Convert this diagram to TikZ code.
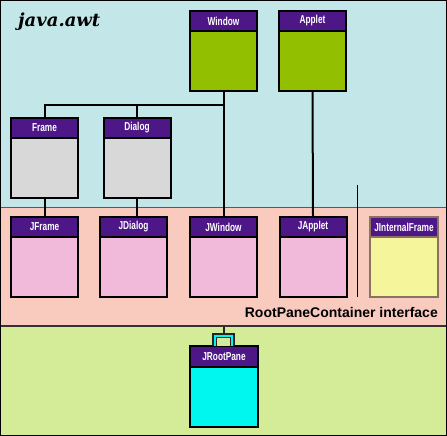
\documentclass[tikz,border=0pt]{standalone}
\usepackage{fontspec}
\setmainfont{Liberation Sans}
\newfontfamily\hdrfont[FakeStretch=0.72]{Liberation Sans}
\newfontfamily\pkgfont{DejaVu Serif}
\definecolor{bgblue}{HTML}{C3E7E9}
\definecolor{bgpink}{HTML}{F9CBBF}
\definecolor{bggreen}{HTML}{D4EB98}
\definecolor{hdrpurple}{HTML}{4D1787}
\definecolor{olive}{HTML}{92BF00}
\definecolor{boxgray}{HTML}{D8D8D8}
\definecolor{boxpink}{HTML}{F2BADA}
\definecolor{boxyellow}{HTML}{F5F59B}
\definecolor{boxcyan}{HTML}{00F7F0}
\definecolor{ifborder}{HTML}{8A7262}
\begin{document}
\begin{tikzpicture}[x=1pt,y=-1pt,
  classbox/.style={draw=black,line width=2pt,minimum width=67pt,minimum height=80pt,inner sep=0pt},
  hdr/.style={draw=black,line width=2pt,fill=hdrpurple,anchor=north,minimum width=67pt,minimum height=20pt,inner sep=0pt,text=white,font=\hdrfont\bfseries\fontsize{11.5}{13}\selectfont},
  link/.style={draw=black,line width=2pt}]
\useasboundingbox (0,0) rectangle (447,436);
% regions
\fill[bgblue] (0,0) rectangle (447,207.5);
\fill[bgpink] (0,207.5) rectangle (447,326);
\fill[bggreen] (0,326) rectangle (447,436);
\draw[gray!70!black,line width=0.6pt] (0,207.5) -- (447,207.5);
\draw[black!80,line width=2pt] (0,326) -- (447,326);
\draw[black,line width=1.2pt] (0.6,0.6) rectangle (446.4,435.4);
% labels
\node[anchor=base west,inner sep=0pt,font=\pkgfont\bfseries\itshape\fontsize{18}{20}\selectfont] (pkg) at (18,26.5) {java.awt};
\node[anchor=base east,inner sep=0pt,font=\bfseries\fontsize{14}{16}\selectfont] (rpc) at (438,317.5) {RootPaneContainer interface};
% classes
\node[classbox,fill=olive] (window) at (223.5,51) {};
\node[hdr] (windowh) at (window.north) {Window};
\node[classbox,fill=olive] (applet) at (312.5,51) {};
\node[hdr] (appleth) at (applet.north) {Applet};
\node[classbox,fill=boxgray] (frame) at (44.5,158) {};
\node[hdr] (frameh) at (frame.north) {Frame};
\node[classbox,fill=boxgray] (dialog) at (137,158) {};
\node[hdr] (dialogh) at (dialog.north) {Dialog};
\node[classbox,fill=boxpink] (jframe) at (44.5,257) {};
\node[hdr] (jframeh) at (jframe.north) {JFrame};
\node[classbox,fill=boxpink] (jdialog) at (133.5,257) {};
\node[hdr] (jdialogh) at (jdialog.north) {JDialog};
\node[classbox,fill=boxpink] (jwindow) at (223.5,257) {};
\node[hdr] (jwindowh) at (jwindow.north) {JWindow};
\node[classbox,fill=boxpink] (japplet) at (313,257) {};
\node[hdr] (jappleth) at (japplet.north) {JApplet};
\node[classbox,fill=boxyellow,draw=ifborder,line width=1.3pt,minimum width=68pt] (jif) at (404,257) {};
\node[hdr,draw=ifborder,line width=1.3pt,minimum width=68pt] (jifh) at (jif.north) {JInternalFrame};
\node[classbox,fill=boxcyan,minimum width=68pt,minimum height=81pt] (jroot) at (224,386.5) {};
\node[hdr,minimum width=68pt,minimum height=21pt] (jrooth) at (jroot.north) {JRootPane};
% connectors
\coordinate (bus) at (0,105);
\draw[link] (frameh.north) |- (bus -| window.south);
\draw[link] (dialogh.north) -- (dialogh.north |- bus);
\draw[link] (window.south) -- (jwindowh.north);
\draw[link] (applet.south) -- (jappleth.north);
\draw[link] (frame.south) -- (frame.south |- jframeh.north);
\draw[link] (dialog.south) -- (dialog.south |- jdialogh.north);
\coordinate (sepTop) at (357,185);
\coordinate (sepBot) at (357,297);
\draw[black,line width=1pt] (sepTop) -- (sepBot);
% handle on JRootPane
\draw[black!85,line width=1.2pt,fill=boxcyan] (213,346) -- (213,334) -- (234,334) -- (234,346);
\draw[black!85,line width=1.2pt,fill=bggreen] (216.8,346) -- (216.8,337.5) -- (230.2,337.5) -- (230.2,346);
\coordinate (handle) at (224,334);
\coordinate (bandline) at (224,327);
\draw[black!85,line width=1.5pt] (bandline) -- (handle);
\end{tikzpicture}
\end{document}
